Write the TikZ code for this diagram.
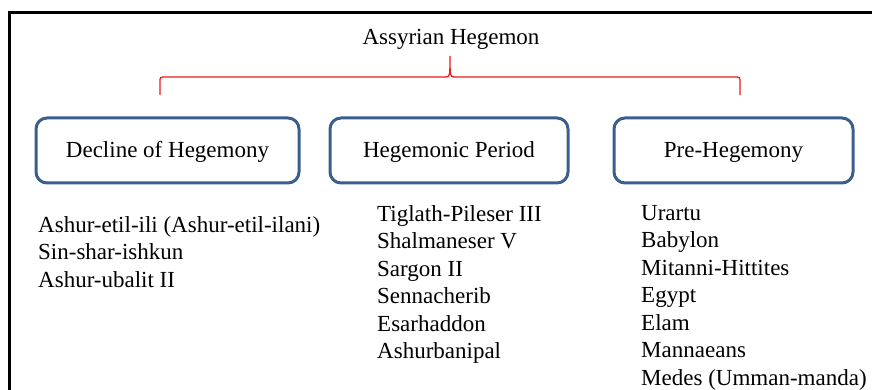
\documentclass[tikz,border=0pt]{standalone}
\usepackage{fontspec}
\setmainfont{Liberation Serif}
\usepackage{xcolor}
\usetikzlibrary{positioning}
\definecolor{azulcaja}{HTML}{3B5E8C}
\definecolor{rojollave}{HTML}{F01818}

\begin{document}
\begin{tikzpicture}[x=1pt, y=-1pt, font=\fontsize{23}{27.5}\selectfont,
    caja/.style={draw=azulcaja, line width=3pt, rounded corners=11pt,
      minimum width=238pt, minimum height=65pt, fill=white,
      text height=15pt, text depth=0pt},
    lista/.style={anchor=base west, align=left, inner sep=0pt}]

  \useasboundingbox (0,0) rectangle (872,390);
  \clip (0,0) rectangle (872,390);

  % --- Marco (solo arriba e izquierda visibles) ---
  \draw[line width=3pt] (9.5,400) -- (9.5,12.5) -- (890,12.5);

  % --- Título ---
  \node[anchor=base, inner sep=0pt] (titulo) at (451,45) {Assyrian Hegemon};

  % --- Llave roja ---
  \coordinate (llaveizq) at (160,95);
  \coordinate (llavepico) at (450,56);
  \coordinate (llaveder) at (740,95);
  \draw[rojollave, line width=1.3pt]
    (llaveizq) -- (160,82) .. controls (160,77) .. (166,77)
    -- (445,77) .. controls (450,77) .. (llavepico)
    .. controls (450,77) .. (455,77) -- (734,77)
    .. controls (740,77) .. (740,82) -- (llaveder);

  % --- Cajas de periodos ---
  \node[caja, minimum width=263pt] (declive) at (167.5,150.5) {Decline of Hegemony};
  \node[caja] (hegemonico) at (449,150.5) {Hegemonic Period};
  \node[caja, minimum width=239pt] (previo) at (733.5,150.5) {Pre-Hegemony};

  % --- Listas (ancla en la última línea) ---
  \node[lista] (reyesdeclive) at (38,287)
    {Ashur-etil-ili (Ashur-etil-ilani)\\Sin-shar-ishkun\\Ashur-ubalit II};
  \node[lista] (reyeshegemonia) at (377,358.5)
    {Tiglath-Pileser III\\Shalmaneser V\\Sargon II\\Sennacherib\\Esarhaddon\\Ashurbanipal};
  \node[lista] (pueblosprevios) at (641,385)
    {Urartu\\Babylon\\Mitanni-Hittites\\Egypt\\Elam\\Mannaeans\\Medes (Umman-manda)};

\end{tikzpicture}
\end{document}
